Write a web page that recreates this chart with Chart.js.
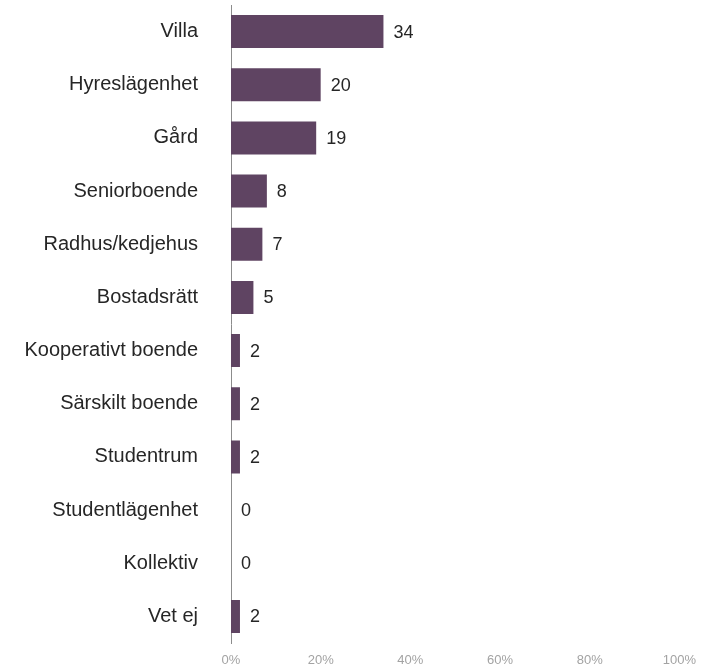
<!DOCTYPE html>
<html>
<head>
<meta charset="utf-8">
<script src="https://cdn.jsdelivr.net/npm/chart.js@4"></script>
<style>
  html, body { margin: 0; padding: 0; background: #fff; }
</style>
</head>
<body>
<canvas id="boende" width="706" height="666"></canvas>
<script>
var categories = ['Villa', 'Hyreslägenhet', 'Gård', 'Seniorboende', 'Radhus/kedjehus', 'Bostadsrätt',
    'Kooperativt boende', 'Särskilt boende', 'Studentrum', 'Studentlägenhet', 'Kollektiv', 'Vet ej'];
var values = [34, 20, 19, 8, 7, 5, 2, 2, 2, 0, 0, 2];
var tickLabels = ['0%', '20%', '40%', '60%', '80%', '100%'];

// draws the numbers right of each bar
var valueLabels = {
    id: 'valueLabels',
    afterDatasetsDraw: function (chart) {
        var ctx = chart.ctx;
        var meta = chart.getDatasetMeta(0);
        ctx.save();
        ctx.font = '18px "Liberation Sans", Arial, sans-serif';
        ctx.fillStyle = '#262626';
        ctx.textBaseline = 'middle';
        ctx.textAlign = 'left';
        meta.data.forEach(function (bar, i) {
            ctx.fillText(String(values[i]), bar.x + 10, bar.y + 1);
        });
        ctx.restore();
    }
};

var ctx = document.getElementById('boende').getContext('2d');
var chart = new Chart(ctx, {
    type: 'bar',
    data: {
        labels: categories,
        datasets: [{
            data: values,
            backgroundColor: '#5f4462',
            borderWidth: 0,
            barPercentage: 0.62,
            categoryPercentage: 1
        }]
    },
    options: {
        indexAxis: 'y',
        responsive: false,
        animation: false,
        layout: { padding: { top: 5, right: 20, bottom: 0, left: 0 } },
        plugins: { legend: { display: false }, tooltip: { enabled: false } },
        scales: {
            x: {
                min: 0,
                max: 100,
                grid: { display: false, drawTicks: false },
                border: { display: false },
                ticks: {
                    stepSize: 20,
                    padding: 10,
                    color: '#a3a3a3',
                    font: { family: '"Liberation Sans", Arial, sans-serif', size: 13 },
                    callback: function (v, i) { return tickLabels[i]; }
                },
                afterFit: function (scale) { scale.height = 23; }
            },
            y: {
                grid: { display: false, drawTicks: false },
                border: { display: true, color: '#8c8c8c', width: 1 },
                ticks: {
                    padding: 33,
                    color: '#262626',
                    font: { family: '"Liberation Sans", Arial, sans-serif', size: 20 }
                },
                afterFit: function (scale) {
                    scale.width = 231;
                    scale.paddingTop = 0;
                    scale.paddingBottom = 0;
                }
            }
        }
    },
    plugins: [valueLabels]
});
</script>
</body>
</html>
